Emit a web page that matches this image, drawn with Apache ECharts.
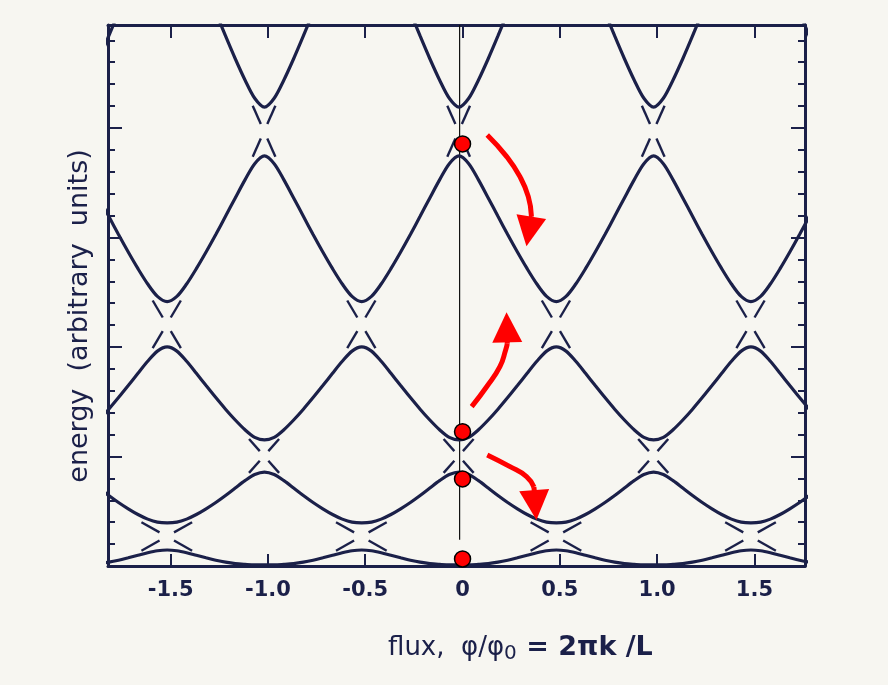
<!DOCTYPE html>
<html>
<head>
<meta charset="utf-8">
<script src="https://cdn.jsdelivr.net/npm/echarts@6/dist/echarts.min.js"></script>
<style>
  html, body { margin: 0; padding: 0; background: #f7f6f1; }
  #chart { width: 888px; height: 685px; }
</style>
</head>
<body>
<div id="chart"></div>
<script>
// ---------------- data ----------------
// flux sampling step for one half period, phi = 0, 0.05, ..., 0.5
const PROFILE_STEP = 0.05;
// the printed curves sit slightly left of the tick marks
const bandPhiShift = -0.018;
// band energies over one half period (arbitrary units)
const band1 = [0.010, 0.010, 0.015, 0.022, 0.035, 0.053, 0.075, 0.098, 0.121, 0.139, 0.146];
const band2 = [0.858, 0.835, 0.779, 0.712, 0.644, 0.580, 0.522, 0.470, 0.428, 0.400, 0.393];
const band3 = [1.151, 1.175, 1.244, 1.333, 1.432, 1.538, 1.648, 1.760, 1.869, 1.962, 2.000];
const band4 = [3.745, 3.674, 3.526, 3.361, 3.193, 3.027, 2.867, 2.715, 2.575, 2.462, 2.414];
const band5 = [4.190, 4.271, 4.438, 4.632, 4.840, 5.057, 5.280, 5.510, 5.745, 5.950, 6.000];

// free-electron crossings inside the gaps (dashed "X" marks)
const crossPhi   = [-1.52, -0.52, 0.48, 1.48, -1.02, -0.02, 0.98, -1.52, -0.52, 0.48, 1.48, -1.02, -0.02, 0.98];
const crossE     = [0.27, 0.27, 0.27, 0.27, 1.005, 1.005, 1.005, 2.207, 2.207, 2.207, 2.207, 3.97, 3.97, 3.97];
const crossSlope = [1, 1, 1, 1, 2, 2, 2, 3, 3, 3, 3, 4, 4, 4];
const crossHalfGap = [0.124, 0.124, 0.124, 0.124, 0.147, 0.147, 0.147, 0.207, 0.207, 0.207, 0.207, 0.222, 0.222, 0.222];

// red dots at zero flux
const dotPhi = [0, 0, 0, 0];
const dotE   = [3.854, 1.226, 0.795, 0.064];

// red arrows: shaft points and head (from, to)
const arrow1 = [[0.127, 3.936], [0.227, 3.738], [0.295, 3.555], [0.338, 3.373], [0.354, 3.196]];
const arrow2 = [[0.047, 1.455], [0.124, 1.637], [0.192, 1.820], [0.222, 1.975], [0.230, 2.030]];
const arrow3 = [[0.127, 1.014], [0.244, 0.907], [0.329, 0.816], [0.367, 0.721]];
const arrowHeads = [
  [[0.354, 3.196], [0.341, 3.055]],
  [[0.230, 2.030], [0.228, 2.179]],
  [[0.367, 0.721], [0.374, 0.557]]
];

// vertical zero-flux line
const zeroLine = [[-0.015, 0.24], [-0.015, 4.94]];

// axes
const xMin = -1.822, xMax = 1.76;
const yMin = 0, yMax = 4.94;
const xTickVals = [-1.5, -1, -0.5, 0, 0.5, 1, 1.5];
const xTickLabels = ['-1.5', '-1.0', '-0.5', '0', '0.5', '1.0', '1.5'];
const yMajorTicks = [1, 2, 3, 4];
const yMinorTicks = [0.2, 0.4, 0.6, 0.8, 1.2, 1.4, 1.6, 1.8, 2.2, 2.4, 2.6, 2.8, 3.2, 3.4, 3.6, 3.8, 4.2, 4.4, 4.6, 4.8];

// ---------------- build ----------------
const INK = '#1b2049';

function tile(profile) {
  const pts = [];
  for (let i = -40; i <= 40; i++) {
    const x = +(i * PROFILE_STEP).toFixed(3);
    const t = Math.abs(x - Math.round(x));
    const k = Math.round(t / PROFILE_STEP);
    pts.push([x + bandPhiShift, profile[k]]);
  }
  return pts;
}

const dashSegs = [];
for (let i = 0; i < crossPhi.length; i++) {
  const c = crossPhi[i], e = crossE[i], s = crossSlope[i], g = crossHalfGap[i];
  [1, -1].forEach(sg => {
    [1, -1].forEach(side => {
      const e1 = e + side * 0.3 * g, e2 = e + side * 1.05 * g;
      dashSegs.push({ coords: [[c + (e1 - e) / (sg * s), e1], [c + (e2 - e) / (sg * s), e2]] });
    });
  });
}

const bands = [band1, band2, band3, band4, band5].map((b, i) => ({
  type: 'line', name: 'band' + (i + 1), data: tile(b), showSymbol: false, symbol: 'none',
  smooth: 0.3, lineStyle: { color: INK, width: 3.2 }, z: 3, clip: true, silent: true
}));

const arrowShafts = [arrow1, arrow2, arrow3].map(a => ({
  type: 'line', data: a, symbol: 'none', showSymbol: false, smooth: 0.5,
  lineStyle: { color: '#ff0000', width: 5 }, z: 8, silent: true
}));

const chart = echarts.init(document.getElementById('chart'), null, { renderer: 'canvas' });

const tickLabelFmt = v => {
  const k = xTickVals.findIndex(t => Math.abs(t - v) < 1e-6);
  return k >= 0 ? xTickLabels[k] : '';
};

function yAx(pos, ticks, len, line) {
  return {
    type: 'value', min: yMin, max: yMax, position: pos,
    axisLine: { show: line, onZero: false, lineStyle: { color: INK, width: 3 } },
    axisTick: { show: true, inside: true, length: len, customValues: ticks, lineStyle: { color: INK, width: 2 } },
    axisLabel: { show: false }, splitLine: { show: false }
  };
}

chart.setOption({
  backgroundColor: '#f7f6f1',
  animation: false,
  grid: { left: 108, right: 83, top: 25, bottom: 119, show: false },
  xAxis: [
    {
      type: 'value', min: xMin, max: xMax, position: 'bottom',
      axisLine: { show: true, onZero: false, lineStyle: { color: INK, width: 3 } },
      axisTick: { show: true, inside: true, length: 12, customValues: xTickVals, lineStyle: { color: INK, width: 2 } },
      axisLabel: { show: true, customValues: xTickVals, formatter: tickLabelFmt, margin: 14,
        color: INK, fontSize: 21, fontWeight: 'bold', fontFamily: 'DejaVu Sans' },
      splitLine: { show: false }
    },
    {
      type: 'value', min: xMin, max: xMax, position: 'top',
      axisLine: { show: true, onZero: false, lineStyle: { color: INK, width: 3 } },
      axisTick: { show: true, inside: true, length: 13, customValues: xTickVals, lineStyle: { color: INK, width: 2 } },
      axisLabel: { show: false },
      splitLine: { show: false }
    }
  ],
  yAxis: [
    yAx('left', yMajorTicks, 14, true),
    yAx('left', yMinorTicks, 7, false),
    yAx('right', yMajorTicks, 14, true),
    yAx('right', yMinorTicks, 7, false)
  ],
  series: [
    ...bands,
    {
      type: 'lines', coordinateSystem: 'cartesian2d', data: dashSegs, silent: true,
      lineStyle: { color: INK, width: 2.4, opacity: 1 }, z: 3
    },
    {
      type: 'line', data: zeroLine, symbol: 'none', showSymbol: false,
      lineStyle: { color: '#111', width: 1.2 }, z: 2, silent: true
    },
    ...arrowShafts,
    {
      type: 'lines', coordinateSystem: 'cartesian2d', silent: true,
      data: arrowHeads.map(h => ({ coords: h })),
      symbol: ['none', 'triangle'], symbolSize: 30,
      lineStyle: { color: '#ff0000', width: 5, opacity: 1 },
      itemStyle: { color: '#ff0000' }, z: 9
    },
    {
      type: 'scatter', data: dotPhi.map((p, i) => [p, dotE[i]]), symbol: 'circle', symbolSize: 16,
      itemStyle: { color: '#ff0000', borderColor: '#000', borderWidth: 1.5, opacity: 1 }, z: 10, silent: true
    }
  ],
  graphic: [
    {
      type: 'text', x: 80, y: 316, rotation: Math.PI / 2,
      style: { text: 'energy  (arbitrary  units)', fill: INK, font: '27px "DejaVu Sans"',
        align: 'center', verticalAlign: 'middle' }
    },
    {
      type: 'text', x: 388, y: 648,
      style: {
        text: '{a|flux,  φ/φ}{s|0}{b| = 2πk /L}',
        align: 'left', verticalAlign: 'middle',
        rich: {
          a: { fill: INK, fontSize: 26, fontFamily: 'DejaVu Sans' },
          s: { fill: INK, fontSize: 20, fontFamily: 'DejaVu Sans', padding: [12, 0, 0, 0] },
          b: { fill: INK, fontSize: 27, fontFamily: 'DejaVu Sans', fontWeight: 'bold' }
        }
      }
    }
  ]
});
</script>
</body>
</html>
